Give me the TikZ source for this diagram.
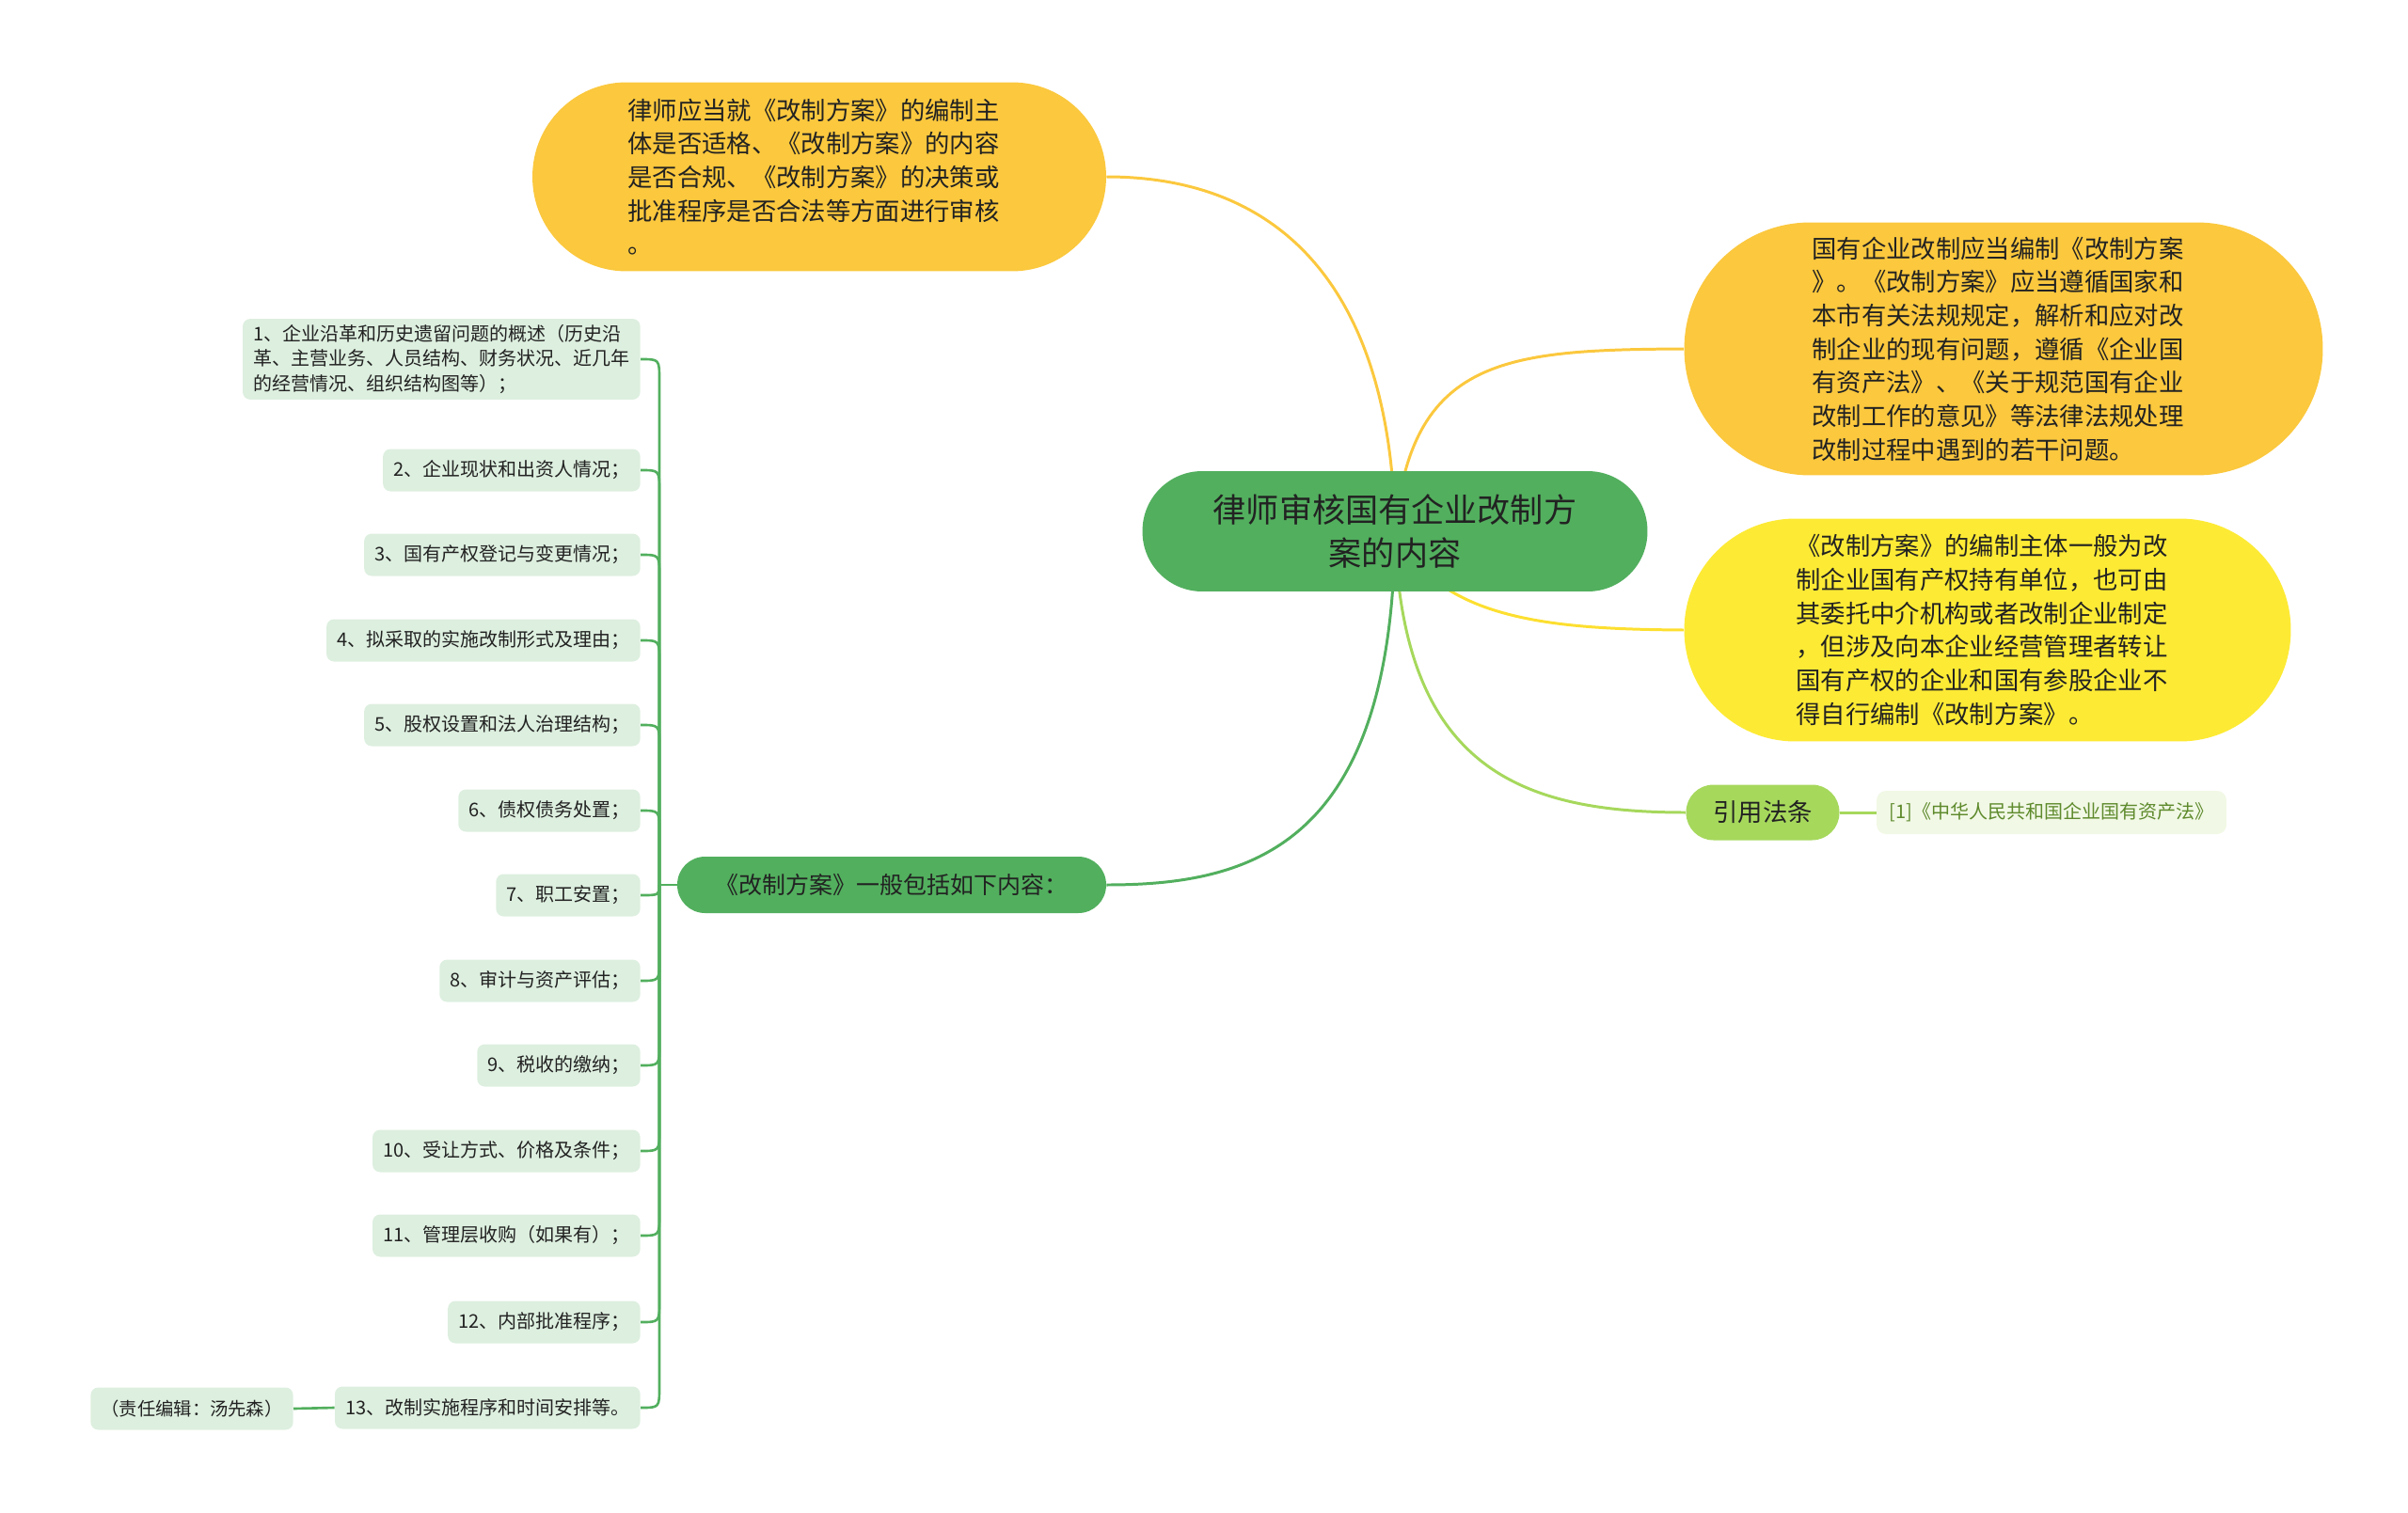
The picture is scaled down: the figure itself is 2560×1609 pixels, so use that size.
\documentclass[tikz,border=0pt]{standalone}
\usepackage{fontspec}
\setmainfont{Noto Sans CJK SC}
\usepackage{tikz}
\usetikzlibrary{calc,backgrounds}
\definecolor{rootgreen}{HTML}{52AF5E}
\definecolor{amber}{HTML}{FBC83E}
\definecolor{lemon}{HTML}{FDEA35}
\definecolor{lime}{HTML}{A6D85C}
\definecolor{limepale}{HTML}{F1F8E5}
\definecolor{limetext}{HTML}{5E8A2C}
\definecolor{itemgreen}{HTML}{DDEFDF}
\definecolor{inkdark}{HTML}{222222}
\newcommand\hook{22}

\begin{document}
\begin{tikzpicture}[x=0.02cm,y=-0.02cm,
    topic/.style={fill=rootgreen, text=inkdark, align=center,
        minimum width=10.74cm, minimum height=2.56cm, rounded corners=1.27cm,
        font=\fontsize{20}{26}\selectfont},
    bubble/.style={text=inkdark, align=left, inner sep=0pt, text width=8.15cm,
        font=\fontsize{15}{20.3}\selectfont},
    branch/.style={fill=rootgreen, text=inkdark, minimum width=9.12cm,
        minimum height=1.2cm, rounded corners=0.59cm,
        font=\fontsize{14.2}{18}\selectfont},
    item/.style={fill=itemgreen, text=inkdark, anchor=east, align=left,
        inner xsep=0.22cm, minimum height=0.9cm, rounded corners=0.16cm,
        font=\fontsize{11.4}{15.3}\selectfont},
    link/.style={line width=1.7pt},
    leaf/.style={line width=1.5pt, rootgreen}]
\useasboundingbox (0,0) rectangle (2560,1609);

% centre
\node[topic] (root) at (1483,565) {律师审核国有企业改制方\\案的内容};

% upper left
\node[bubble, fill=amber, minimum width=12.2cm, minimum height=4.02cm,
    rounded corners=2cm] (check) at (871,188)
    {律师应当就《改制方案》的编制主\\体是否适格、《改制方案》的内容\\是否合规、《改制方案》的决策或\\批准程序是否合法等方面进行审核\\。};

% right side
\node[bubble, fill=amber, minimum width=13.58cm, minimum height=5.38cm,
    rounded corners=2.68cm] (draft) at (2130,371)
    {国有企业改制应当编制《改制方案\\》。《改制方案》应当遵循国家和\\本市有关法规规定，解析和应对改\\制企业的现有问题，遵循《企业国\\有资产法》、《关于规范国有企业\\改制工作的意见》等法律法规处理\\改制过程中遇到的若干问题。};
\node[bubble, fill=lemon, minimum width=12.9cm, minimum height=4.74cm,
    rounded corners=2.36cm] (author) at (2113,670)
    {《改制方案》的编制主体一般为改\\制企业国有产权持有单位，也可由\\其委托中介机构或者改制企业制定\\，但涉及向本企业经营管理者转让\\国有产权的企业和国有参股企业不\\得自行编制《改制方案》。};
\node[fill=lime, text=inkdark, minimum width=3.26cm, minimum height=1.18cm,
    rounded corners=0.58cm, font=\fontsize{15}{18}\selectfont] (law) at (1874,864) {引用法条};
\node[fill=limepale, text=limetext, minimum width=7.44cm, minimum height=0.92cm,
    rounded corners=0.2cm, font=\fontsize{11.4}{14}\selectfont] (cite) at (2181,864)
    {[1]《中华人民共和国企业国有资产法》};

% left list
\node[branch] (plan) at (948,941) {《改制方案》一般包括如下内容：};
\coordinate (fork) at (701,941);
\node[item] (i1) at (681,382) {1、企业沿革和历史遗留问题的概述（历史沿\\革、主营业务、人员结构、财务状况、近几年\\的经营情况、组织结构图等）；};
\node[item] (i2) at (681,500) {2、企业现状和出资人情况；};
\node[item] (i3) at (681,590) {3、国有产权登记与变更情况；};
\node[item] (i4) at (681,681) {4、拟采取的实施改制形式及理由；};
\node[item] (i5) at (681,771) {5、股权设置和法人治理结构；};
\node[item] (i6) at (681,862) {6、债权债务处置；};
\node[item] (i7) at (681,952) {7、职工安置；};
\node[item] (i8) at (681,1043) {8、审计与资产评估；};
\node[item] (i9) at (681,1133) {9、税收的缴纳；};
\node[item] (i10) at (681,1224) {10、受让方式、价格及条件；};
\node[item] (i11) at (681,1314) {11、管理层收购（如果有）；};
\node[item] (i12) at (681,1406) {12、内部批准程序；};
\node[item] (i13) at (681,1497) {13、改制实施程序和时间安排等。};
\node[item, font=\fontsize{11}{14}\selectfont] (editor) at (312,1498) {（责任编辑：汤先森）};

\begin{pgfonlayer}{background}
\draw[link, amber] (root.center) .. controls (1480,330) and (1380,188) .. (check.east);
\draw[link, amber] (root.center) .. controls (1500,380) and (1600,372) .. (draft.west);
\draw[link, lemon!90!orange] (root.center) .. controls (1530,660) and (1650,669) .. (author.west);
\draw[link, lime] (root.center) .. controls (1490,820) and (1620,864) .. (law.west);
\draw[link, rootgreen] (root.center) .. controls (1480,900) and (1330,941) .. (plan.east);
\draw[link, lime] (law.east) -- (cite.west);
\draw[leaf] (plan.west) -- (fork);
% items above the fork
\draw[leaf] (fork) -- ($(fork |- i1.east)+(0,\hook)$) .. controls (fork |- i1.east) .. (i1.east);
\draw[leaf] (fork) -- ($(fork |- i2.east)+(0,\hook)$) .. controls (fork |- i2.east) .. (i2.east);
\draw[leaf] (fork) -- ($(fork |- i3.east)+(0,\hook)$) .. controls (fork |- i3.east) .. (i3.east);
\draw[leaf] (fork) -- ($(fork |- i4.east)+(0,\hook)$) .. controls (fork |- i4.east) .. (i4.east);
\draw[leaf] (fork) -- ($(fork |- i5.east)+(0,\hook)$) .. controls (fork |- i5.east) .. (i5.east);
\draw[leaf] (fork) -- ($(fork |- i6.east)+(0,\hook)$) .. controls (fork |- i6.east) .. (i6.east);
% item next to the fork
\draw[leaf] (fork) .. controls (fork |- i7.east) .. (i7.east);
% items below the fork
\draw[leaf] (fork) -- ($(fork |- i8.east)+(0,-\hook)$) .. controls (fork |- i8.east) .. (i8.east);
\draw[leaf] (fork) -- ($(fork |- i9.east)+(0,-\hook)$) .. controls (fork |- i9.east) .. (i9.east);
\draw[leaf] (fork) -- ($(fork |- i10.east)+(0,-\hook)$) .. controls (fork |- i10.east) .. (i10.east);
\draw[leaf] (fork) -- ($(fork |- i11.east)+(0,-\hook)$) .. controls (fork |- i11.east) .. (i11.east);
\draw[leaf] (fork) -- ($(fork |- i12.east)+(0,-\hook)$) .. controls (fork |- i12.east) .. (i12.east);
\draw[leaf] (fork) -- ($(fork |- i13.east)+(0,-\hook)$) .. controls (fork |- i13.east) .. (i13.east);
\draw[leaf] (i13.west) -- (editor.east);
\end{pgfonlayer}
\end{tikzpicture}
\end{document}
